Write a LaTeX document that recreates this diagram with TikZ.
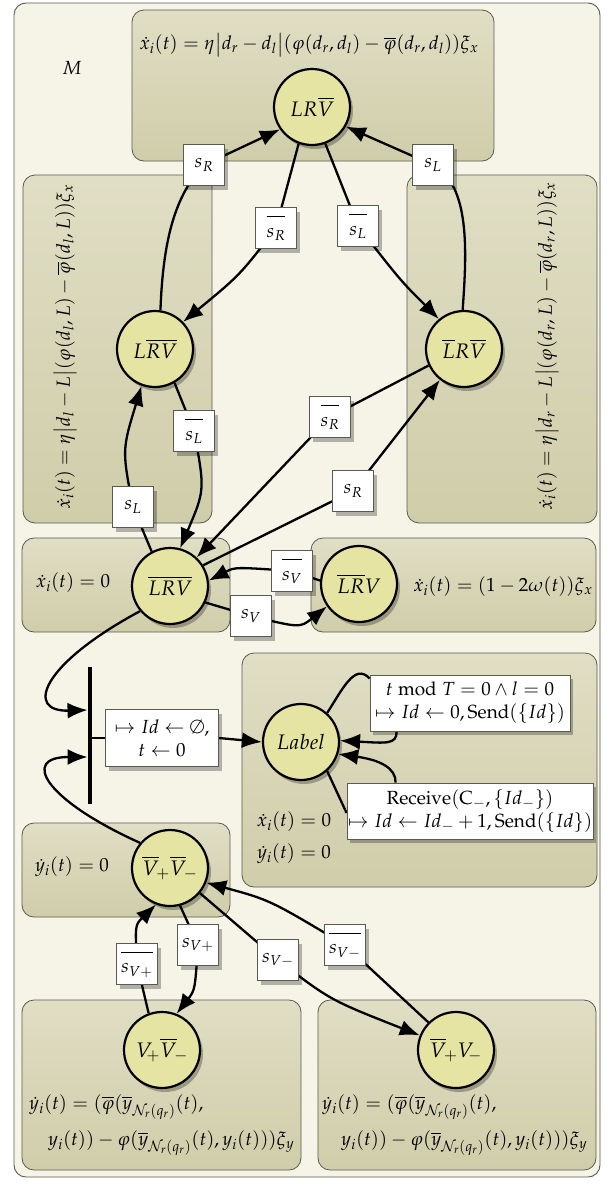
\documentclass[tikz,border=0pt]{standalone}
\usepackage{amssymb}
\usepackage{mathpazo}
\usetikzlibrary{arrows.meta,shadows,calc}
\definecolor{outerfill}{HTML}{F6F4E7}
\definecolor{regtop}{HTML}{E0DEC4}
\definecolor{regbot}{HTML}{D0CDAA}
\definecolor{statefill}{HTML}{E6E4A2}
\definecolor{framecol}{HTML}{5A5A50}
\pgfdeclarelayer{back}
\pgfdeclarelayer{edges}
\pgfsetlayers{back,edges,main}
\tikzset{
  bigfont/.style={font=\fontsize{19}{23}\selectfont},
  nodefont/.style={font=\fontsize{21}{25}\selectfont},
  shad/.style={drop shadow={shadow xshift=3pt, shadow yshift=-4pt, opacity=0.28, fill=black}},
  txt/.style={bigfont, inner sep=0pt},
  stnode/.style={circle, draw=black, line width=2.2pt, fill=statefill, minimum size=76pt, inner sep=0pt, nodefont, shad},
  guard/.style={draw=framecol, fill=white, line width=0.8pt, minimum width=41pt, minimum height=41pt, inner sep=0pt, bigfont, shad},
  actbox/.style={draw=framecol, fill=white, line width=0.8pt, align=center, inner sep=0pt, bigfont, shad},
  region/.style={draw=framecol, line width=0.8pt, rounded corners=12pt, top color=regtop, bottom color=regbot},
  outer/.style={draw=framecol, line width=0.9pt, rounded corners=12pt, fill=outerfill},
  conn/.style={line width=2.3pt, draw=black},
  arr/.style={conn, -{Latex[length=20pt,width=16pt]}},
}
\newcommand{\ovl}[1]{\overline{\rule{0pt}{2.2ex}#1}}
\begin{document}
\begin{tikzpicture}[x=1pt,y=-1pt]
\useasboundingbox (0,0) rectangle (609,1189);
\begin{pgfonlayer}{back}
  \draw[outer] (14,3) rectangle (600,1177);
  \draw[region] (132,10) rectangle (494,161);
  \draw[region] (23,175) rectangle (212,523);
  \draw[region] (407,175) rectangle (597,523);
  \draw[region] (22,538) rectangle (230,632);
  \draw[region] (311,538) rectangle (596,632);
  \draw[region] (242,653) rectangle (597,887);
  \draw[region] (22,823) rectangle (230,917);
  \draw[region] (22,1000) rectangle (301,1170);
  \draw[region] (318,1000) rectangle (596,1170);
\end{pgfonlayer}

% region texts
\node[txt] (mlab) at (72,68) {$M$};
\node[txt] (eqtop) at (309,45) {$\dot{x}_i(t)=\eta\bigl|d_r-d_l\bigr|(\varphi(d_r,d_l)-\overline{\varphi}(d_r,d_l))\xi_x$};
\node[txt, rotate=90] (eqleft) at (65,347) {$\dot{x}_i(t)=\eta\bigl|d_l-L\bigr|(\varphi(d_l,L)-\overline{\varphi}(d_l,L))\xi_x$};
\node[txt, rotate=90] (eqright) at (547,346) {$\dot{x}_i(t)=\eta\bigl|d_r-L\bigr|(\varphi(d_r,L)-\overline{\varphi}(d_r,L))\xi_x$};
\node[txt] (eqmidl) at (73,583) {$\dot{x}_i(t)=0$};
\node[txt] (eqmidr) at (503,587) {$\dot{x}_i(t)=(1-2\omega(t))\xi_x$};
\node[txt] (eqlabx) at (294,822) {$\dot{x}_i(t)=0$};
\node[txt] (eqlaby) at (294,854) {$\dot{y}_i(t)=0$};
\node[txt] (eqvv) at (72,867) {$\dot{y}_i(t)=0$};
\node[txt, anchor=west, align=left] (eqbl) at (29,1125) {$\dot{y}_i(t)=(\overline{\varphi}(\overline{y}_{\mathcal{N}_r(q_r)}(t),$\\[10pt]\hspace*{19pt}$y_i(t))-\varphi(\overline{y}_{\mathcal{N}_r(q_r)}(t),y_i(t)))\xi_y$};
\node[txt, anchor=west, align=left] (eqbr) at (322,1125) {$\dot{y}_i(t)=(\overline{\varphi}(\overline{y}_{\mathcal{N}_r(q_r)}(t),$\\[10pt]\hspace*{19pt}$y_i(t))-\varphi(\overline{y}_{\mathcal{N}_r(q_r)}(t),y_i(t)))\xi_y$};

% states
\node[stnode] (top) at (312,107) {$LR\overline{V}$};
\node[stnode] (left) at (155,349) {$L\overline{R}\overline{V}$};
\node[stnode] (right) at (464,349) {$\overline{L}R\overline{V}$};
\node[stnode] (mid) at (170,586) {$\overline{L}\overline{R}\overline{V}$};
\node[stnode] (midr) at (359,584) {$\overline{L}\overline{R}V$};
\node[stnode] (label) at (301,742) {$Label$};
\node[stnode] (vv) at (170,868) {$\overline{V}_{\!+}\overline{V}_{\!-}$};
\node[stnode] (vpv) at (162,1050) {$V_{\!+}\overline{V}_{\!-}$};
\node[stnode] (vvm) at (456,1050) {$\overline{V}_{\!+}V_{\!-}$};

% bar
\node[fill=black, minimum width=4.5pt, minimum height=137pt, inner sep=0pt] (bar) at (90,735.5) {};

% guards
\node[guard] (gsR) at (204,165) {$s_R$};
\node[guard] (gsL) at (433,165) {$s_L$};
\node[guard] (gnR) at (276,228) {$\ovl{s_R}$};
\node[guard] (gnL) at (358,226) {$\ovl{s_L}$};
\node[guard] (gnL2) at (194,431) {$\ovl{s_L}$};
\node[guard] (gsL2) at (133,507) {$s_L$};
\node[guard] (gnR2) at (330,417) {$\ovl{s_R}$};
\node[guard] (gsR2) at (353,491) {$s_R$};
\node[guard] (gnV) at (292,571) {$\ovl{s_V}$};
\node[guard] (gsV) at (251,616) {$s_V$};
\node[guard] (gnVp) at (137,964) {$\ovl{s_{V+}}$};
\node[guard] (gsVp) at (198,945) {$s_{V+}$};
\node[guard] (gsVm) at (278,960) {$s_{V-}$};
\node[guard] (gnVm) at (345,945) {$\ovl{s_{V-}}$};

% action boxes
\node[actbox, minimum width=113pt, minimum height=57pt] (init) at (162,738) {$\mapsto Id\leftarrow\emptyset,$\\$t\leftarrow 0$};
\node[actbox, minimum width=200pt, minimum height=56pt] (act1) at (470,703) {$t\bmod T=0\wedge l=0$\\$\mapsto Id\leftarrow 0,\mathrm{Send}(\{Id\})$};
\node[actbox, minimum width=246pt, minimum height=56pt] (act2) at (470,811) {$\mathrm{Receive}(\mathrm{C}_-,\{Id_-\})$\\$\mapsto Id\leftarrow Id_-+1,\mathrm{Send}(\{Id\})$};

\begin{pgfonlayer}{edges}
  % top triangle
  \draw[arr] (left.82) .. controls (163,240) and (175,195) .. (gsR.center) -- (top.215);
  \draw[arr] (top.250) -- (gnR.center) .. controls (240,275) .. (left.44);
  \draw[arr] (top.290) -- (gnL.center) .. controls (400,280) .. (right.130);
  \draw[arr] (right.92) .. controls (467,250) and (470,185) .. (gsL.center) -- (top.330);
  % left / mid
  \draw[arr] (mid.118) -- (gsL2.center) .. controls (122,450) .. (left.250);
  \draw[arr] (left.300) -- (gnL2.center) .. controls (205,490) .. (mid.75);
  \draw[arr] (right.205) -- (gnR2.center) -- (mid.47);
  \draw[arr] (mid.32) -- (gsR2.center) -- (right.232);
  % mid / midr
  \draw[arr] (midr.175) -- (gnV.center) .. controls (235,567) .. (mid.8);
  \draw[arr] (mid.335) -- (gsV.center) .. controls (300,628) .. (midr.215);
  % to bar
  \draw[arr] (mid.220) .. controls (40,665) and (25,712) .. ($(bar.west)+(0,-25.5)$);
  \draw[arr] (vv.140) .. controls (45,800) and (20,757) .. ($(bar.west)+(0,21.5)$);
  % bar to label
  \draw[conn] (bar.east |- init.west) -- (init.west);
  \draw[arr] (init.east) -- (label.west);
  % label loops
  \draw[conn] (label.48) .. controls (342,690) and (355,662) .. ($(act1.north west)+(0,4)$);
  \draw[arr] ($(act1.south west)+(27,0)$) .. controls (397,745) and (385,743) .. (label.2);
  \draw[conn] (label.-48) -- ($(act2.west)+(0,2)$);
  \draw[arr] ($(act2.north west)+(49,0)$) .. controls (396,768) and (380,760) .. (label.-18);
  % bottom
  \draw[arr] (vv.-75) -- (gsVp.center) .. controls (195,990) .. (vpv.68);
  \draw[arr] (vpv.110) -- (gnVp.center) .. controls (135,925) .. (vv.-111);
  \draw[arr] (vv.-40) -- (gsVm.center) .. controls (330,1000) .. (vvm.158);
  \draw[arr] (vvm.135) -- (gnVm.center) .. controls (270,900) .. (vv.-22);
\end{pgfonlayer}
\end{tikzpicture}
\end{document}
